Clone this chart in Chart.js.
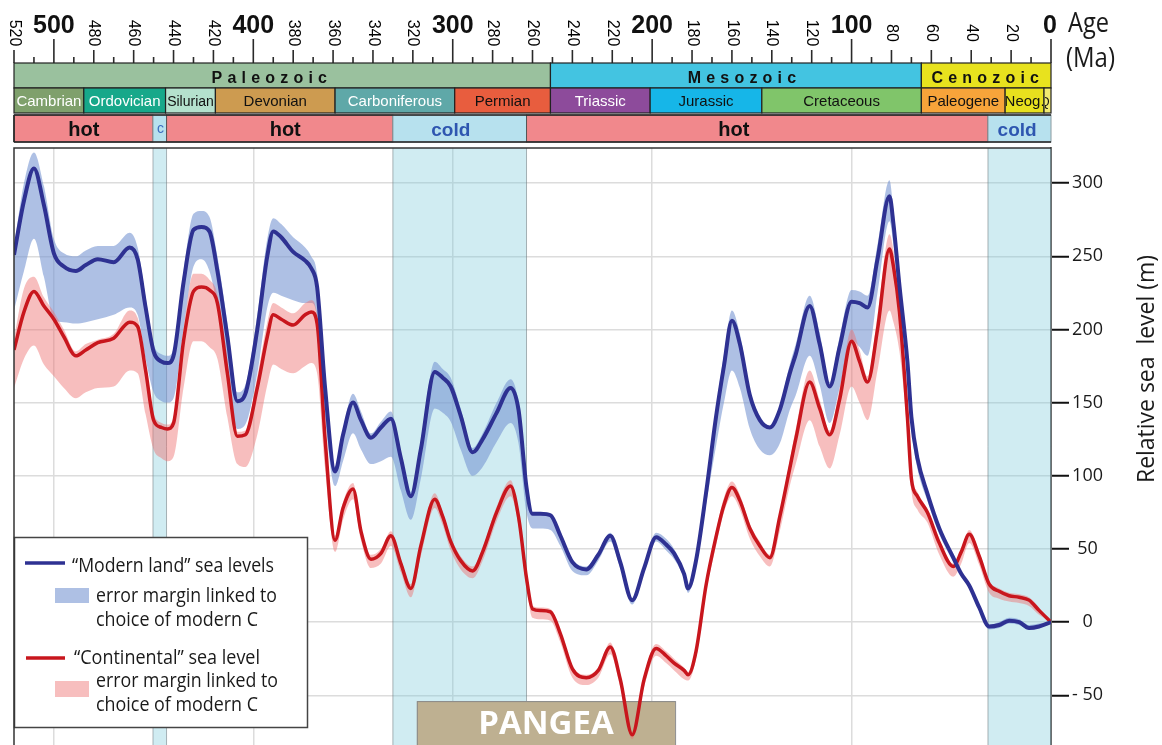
<!DOCTYPE html>
<html>
<head>
<meta charset="utf-8">
<script src="https://cdn.jsdelivr.net/npm/chart.js@4.4.0/dist/chart.umd.min.js"></script>
<style>
  html, body { margin: 0; padding: 0; background: #fff; overflow: hidden; }
  #wrap { position: relative; width: 1162px; height: 745px; }
</style>
</head>
<body>
<div id="wrap"><canvas id="chart" width="1162" height="745"></canvas></div>
<script>
// ---- Sea level reconstruction (Ma, metres relative to present) ----
const ages = [
  520,515,510,505,500,495,489,484,478,470,
  462,458,454,450,446,443,440,435,430,426,
  422,418,413,408,404,398,393,390,386,380,
  374,371,368,364,359,355,350,346,341,336,
  331,326,321,316,309,305,301,296,290,285,
  278,271,267,263,260,256,251,246,240,233,
  227,221,216,210,204,198,193,189,184,182,
  178,173,168,164,160,156,151,146,141,136,
  131,128,121,116,111,106,100,96,92,87,
  81,79,76,72,70,67,62,56,49,45,
  41,36,31,26,21,16,11,6,0
];

// "Modern land" sea levels and their error margin
const modernLand = [
  251,288,310,285,252,243,240,244,248,246,
  256,248,215,185,178,177,182,232,268,270,
  267,240,195,151,156,200,250,267,263,253,
  247,242,229,160,103,128,150,138,126,133,
  139,112,86,118,171,167,161,141,116,125,
  143,160,145,92,74,74,73,59,41,36,
  46,59,41,15,37,58,53,47,33,23,
  42,88,140,175,206,190,155,138,133,145,
  170,183,216,190,161,188,219,218,215,248,
  291,272,230,178,140,112,88,64,44,33,
  25,10,-3,-2,1,0,-4,-3,0
];
const modernLandHigh = [
  257,300,321,298,262,252,250,254,257,257,
  266,256,222,190,183,182,187,240,279,281,
  277,250,205,157,162,210,262,276,272,263,
  256,250,238,166,106,132,156,144,129,137,
  144,116,89,124,178,173,167,146,119,129,
  150,166,150,96,75,75,74,60,43,38,
  48,61,43,16,39,61,57,50,35,24,
  43,90,145,183,213,197,159,141,134,148,
  176,190,223,198,164,195,227,226,223,258,
  302,282,236,183,143,114,90,66,45,34,
  26,11,-2,0,3,2,-2,-1,0
];
const modernLandLow = [
  213,240,262,236,207,205,204,205,207,210,
  215,210,180,157,151,150,153,200,243,248,
  240,215,170,132,135,170,215,225,223,220,
  218,218,208,140,93,110,129,118,108,110,
  113,90,70,98,146,143,137,118,100,106,
  123,136,122,75,64,64,63,52,35,32,
  42,55,37,12,34,55,49,43,30,20,
  38,80,120,150,172,160,132,118,114,122,
  145,155,182,162,136,160,193,188,182,225,
  274,258,220,168,132,105,83,60,41,31,
  23,8,-5,-4,-1,-2,-5,-4,0
];

// "Continental" sea level and its error margin
const continental = [
  186,212,226,216,207,195,182,186,191,194,
  205,202,172,138,133,132,136,192,226,229,
  227,218,170,127,128,160,195,210,207,203,
  210,212,204,125,56,78,91,62,43,47,
  59,40,23,52,84,72,55,42,35,48,
  75,93,72,30,9,8,7,-8,-32,-38,
  -33,-17,-39,-77,-39,-18,-23,-28,-33,-36,
  -20,25,58,80,92,83,64,52,44,72,
  105,125,164,146,128,152,192,178,164,200,
  255,243,212,140,98,86,75,54,38,48,
  60,45,26,21,18,17,15,8,0
];
const continentalHigh = [
  194,228,236,222,212,200,185,190,193,197,
  213,208,176,143,136,135,140,200,238,238,
  234,224,175,130,131,168,205,218,215,211,
  218,220,210,130,59,82,95,65,46,50,
  62,43,26,55,88,75,58,45,38,51,
  79,97,75,33,11,10,9,-6,-30,-36,
  -31,-14,-37,-75,-36,-15,-20,-25,-31,-34,
  -18,28,62,85,96,87,67,55,46,75,
  110,132,172,152,131,160,200,186,168,210,
  265,254,217,145,102,89,77,56,40,50,
  63,48,28,23,20,19,17,10,0
];
const continentalLow = [
  160,180,189,176,168,160,153,157,160,161,
  172,170,142,118,112,110,113,160,192,192,
  188,180,140,108,106,128,162,176,173,170,
  175,177,170,105,48,70,84,56,37,40,
  52,34,17,45,78,66,49,36,30,42,
  69,86,66,24,3,2,1,-14,-38,-43,
  -38,-22,-44,-80,-44,-23,-28,-33,-39,-40,
  -25,20,52,75,86,77,57,45,38,62,
  93,108,138,120,105,128,161,150,138,172,
  213,205,185,130,90,77,68,46,31,40,
  54,39,20,16,14,13,11,5,0
];

// ---- Geologic time scale ----
const eraNames = ['Paleozoic', 'Mesozoic', 'Cenozoic'];
const eraBounds = [520, 251, 65, 0];
const periodNames = ['Cambrian','Ordovician','Silurian','Devonian','Carboniferous','Permian',
                     'Triassic','Jurassic','Cretaceous','Paleogene','Neog.','Q'];
const periodBounds = [520, 485, 444, 419, 359, 299, 251, 201, 145, 65, 23, 3.5, 0];
const climateNames = ['hot', 'c', 'hot', 'cold', 'hot', 'cold'];
const climateBounds = [520, 450.3, 443.5, 330, 263, 31.6, 0];
const coldSpans = [[450.3, 443.5], [330, 263], [31.6, 0]];
const pangeaSpan = [318, 188.5];
const pangeaTop = -54;

// Age axis labels
const majorAgeLabels = [500, 400, 300, 200, 100, 0];
const minorAgeLabels = [520,480,460,440,420,380,360,340,320,280,260,240,220,180,160,140,120,80,60,40,20];

// ---- Styling ----
const eraColors = ['#9AC19E', '#43C4E1', '#E8E21E'];
const eraLabelAt = [392, 155, 33];
const periodColors = ['#7FA06C','#17A88A','#B4E1CD','#CD9B50','#5FA8A8','#E85D3E',
                      '#8D4B9B','#16B6E8','#80C56A','#F7A43A','#E8E01E','#F2EA70'];
const periodTextColors = ['#fff','#fff','#111','#111','#fff','#111','#fff','#111','#111','#111','#111','#111'];
const climateColors = { hot: '#F1888C', cold: '#B7E1EE', c: '#B7E1EE' };
const climateLabelAt = [485, 446.5, 384, 301, 159, 17];

const BLUE = '#2E3192';
const RED = '#C8161D';
const BLUE_BAND = 'rgba(120,150,210,0.6)';
const RED_BAND = 'rgba(238,110,110,0.45)';
const SANS = '"Open Sans", "Noto Sans", sans-serif';
const ARIAL = '"Liberation Sans", Arial, sans-serif';
const NARROW = '"Liberation Sans Narrow", "Liberation Sans", Arial, sans-serif';

const toPoints = vals => ages.map((a, i) => ({ x: a, y: vals[i] }));

function fitText(ctx, text, x, y, width, font, color, align) {
  ctx.save();
  ctx.font = font;
  ctx.fillStyle = color;
  ctx.textBaseline = 'alphabetic';
  ctx.textAlign = 'left';
  const w = ctx.measureText(text).width;
  const s = Math.max(0.6, Math.min(1.2, width / w));
  let x0 = x;
  if (align === 'center') x0 = x - (w * s) / 2;
  ctx.translate(x0, y);
  ctx.scale(s, 1);
  ctx.fillText(text, 0, 0);
  ctx.restore();
}

function spacedText(ctx, text, cx, y, spacing) {
  const widths = [...text].map(ch => ctx.measureText(ch).width);
  const total = widths.reduce((s, w) => s + w, 0) + spacing * (text.length - 1);
  let x = cx - total / 2;
  ctx.textAlign = 'left';
  [...text].forEach((ch, i) => { ctx.fillText(ch, x, y); x += widths[i] + spacing; });
}

// Cold intervals and the Pangea label sit behind the curves
const backdropPlugin = {
  id: 'backdrop',
  beforeDatasetsDraw(chart) {
    const { ctx, chartArea, scales: { x, y } } = chart;
    ctx.save();
    coldSpans.forEach(([a0, a1]) => {
      const x0 = x.getPixelForValue(a0), x1 = x.getPixelForValue(a1);
      ctx.fillStyle = 'rgba(121,201,218,0.35)';
      ctx.fillRect(x0, chartArea.top, x1 - x0, chartArea.bottom - chartArea.top);
      ctx.strokeStyle = 'rgba(110,120,125,0.55)';
      ctx.lineWidth = 1;
      ctx.beginPath();
      ctx.moveTo(x0, chartArea.top); ctx.lineTo(x0, chartArea.bottom);
      ctx.moveTo(x1, chartArea.top); ctx.lineTo(x1, chartArea.bottom);
      ctx.stroke();
    });
    const px0 = x.getPixelForValue(pangeaSpan[0]);
    const px1 = x.getPixelForValue(pangeaSpan[1]);
    const py = y.getPixelForValue(pangeaTop);
    ctx.fillStyle = '#BEB091';
    ctx.fillRect(px0, py, px1 - px0, chartArea.bottom - py + 2);
    ctx.strokeStyle = '#8a8a8a';
    ctx.lineWidth = 1;
    ctx.strokeRect(px0 + 0.5, py + 0.5, px1 - px0, chartArea.bottom - py + 2);
    ctx.fillStyle = '#fff';
    ctx.font = 'bold 33px ' + SANS;
    ctx.textAlign = 'center';
    ctx.textBaseline = 'alphabetic';
    ctx.fillText('PANGEA', (px0 + px1) / 2, 734);
    ctx.restore();
  }
};

// Legend box
const legendPlugin = {
  id: 'seaLegend',
  afterDatasetsDraw(chart) {
    const ctx = chart.ctx;
    ctx.save();
    ctx.fillStyle = '#fff';
    ctx.fillRect(14, 537, 294, 191);
    ctx.strokeStyle = '#444';
    ctx.lineWidth = 1.5;
    ctx.strokeRect(14.5, 537.5, 293, 190);
    const font = '19.5px ' + SANS, ink = '#1a1a1a';
    ctx.lineCap = 'butt';
    ctx.strokeStyle = BLUE; ctx.lineWidth = 3.5;
    ctx.beginPath(); ctx.moveTo(25, 563); ctx.lineTo(65, 563); ctx.stroke();
    fitText(ctx, '\u201cModern land\u201d sea levels', 72, 571.5, 202, font, ink);
    ctx.fillStyle = BLUE_BAND; ctx.fillRect(55, 588, 34, 15);
    fitText(ctx, 'error margin linked to', 96, 601.5, 181, font, ink);
    fitText(ctx, 'choice of modern C', 96, 625.5, 162, font, ink);
    ctx.strokeStyle = RED; ctx.lineWidth = 3.5;
    ctx.beginPath(); ctx.moveTo(26, 658); ctx.lineTo(65, 658); ctx.stroke();
    fitText(ctx, '\u201cContinental\u201d sea level', 74, 664, 186, font, ink);
    ctx.fillStyle = RED_BAND; ctx.fillRect(55, 681, 34, 16);
    fitText(ctx, 'error margin linked to', 96, 687, 182, font, ink);
    fitText(ctx, 'choice of modern C', 96, 710.5, 162, font, ink);
    ctx.restore();
  }
};

// Time scale header, plot frame and axis captions
const headerPlugin = {
  id: 'geoHeader',
  afterDraw(chart) {
    const { ctx, chartArea } = chart;
    const px = a => chart.scales.x.getPixelForValue(a);
    ctx.save();

    // age ticks
    ctx.strokeStyle = '#2a2a2a';
    ctx.lineWidth = 1.6;
    for (let a = 520; a >= 0; a -= 10) {
      const len = a % 100 === 0 ? 24 : (a % 20 === 0 ? 13 : 6);
      const x = px(a);
      ctx.beginPath(); ctx.moveTo(x, 63 - len); ctx.lineTo(x, 63); ctx.stroke();
    }
    ctx.fillStyle = '#111';
    ctx.font = 'bold 25px ' + NARROW;
    ctx.textAlign = 'center';
    ctx.textBaseline = 'alphabetic';
    majorAgeLabels.forEach(a => ctx.fillText(String(a), px(a) - (a === 0 ? 1 : 0), 33));
    ctx.fillStyle = '#000';
    ctx.font = '16px ' + ARIAL;
    minorAgeLabels.forEach(a => {
      ctx.save();
      ctx.translate(px(a), 33);
      ctx.rotate(Math.PI / 2);
      ctx.textAlign = 'center';
      ctx.textBaseline = 'middle';
      ctx.fillText(String(a), 0, 0);
      ctx.restore();
    });

    // eras
    ctx.strokeStyle = '#222';
    ctx.lineWidth = 1.2;
    eraNames.forEach((name, i) => {
      const x0 = px(eraBounds[i]), x1 = px(eraBounds[i + 1]);
      ctx.fillStyle = eraColors[i];
      ctx.fillRect(x0, 63, x1 - x0, 25);
      ctx.strokeRect(x0, 63, x1 - x0, 25);
      ctx.fillStyle = '#111';
      ctx.font = 'bold 16px ' + ARIAL;
      ctx.textBaseline = 'alphabetic';
      spacedText(ctx, name, px(eraLabelAt[i]), 82.5, 5.2);
    });

    // periods
    periodNames.forEach((name, i) => {
      const x0 = px(periodBounds[i]), x1 = px(periodBounds[i + 1]);
      ctx.fillStyle = periodColors[i];
      ctx.fillRect(x0, 88, x1 - x0, 25);
      ctx.strokeRect(x0, 88, x1 - x0, 25);
      ctx.save();
      ctx.beginPath(); ctx.rect(x0 + 1, 88, x1 - x0 - 2, 25); ctx.clip();
      let font = '15px ' + ARIAL;
      if (name === 'Silurian') font = '14px ' + ARIAL;
      if (name === 'Neog.') font = '15px ' + NARROW;
      if (name === 'Q') font = '12px ' + ARIAL;
      ctx.font = font;
      ctx.fillStyle = periodTextColors[i];
      ctx.textAlign = 'center';
      const cx = name === 'Q' ? x0 + 1 : (x0 + x1) / 2;
      ctx.fillText(name, cx, 106);
      ctx.restore();
    });

    // climate mode
    climateNames.forEach((name, i) => {
      const x0 = px(climateBounds[i]), x1 = px(climateBounds[i + 1]);
      ctx.fillStyle = climateColors[name];
      ctx.fillRect(x0, 115, x1 - x0, 27);
      ctx.strokeStyle = name === 'hot' ? '#555' : '#8a9a9f';
      ctx.lineWidth = 1;
      ctx.strokeRect(x0, 115, x1 - x0, 27);
      ctx.textAlign = 'center';
      if (name === 'hot') {
        ctx.fillStyle = '#111';
        ctx.font = 'bold 20px ' + NARROW;
      } else if (name === 'cold') {
        ctx.fillStyle = '#2E56B0';
        ctx.font = 'bold 19px ' + NARROW;
      } else {
        ctx.fillStyle = '#3C6CC0';
        ctx.font = '14px ' + ARIAL;
      }
      ctx.fillText(name, px(climateLabelAt[i]), name === 'c' ? 133 : 135.5);
    });
    ctx.strokeStyle = '#222';
    ctx.lineWidth = 1.6;
    ctx.beginPath();
    ctx.moveTo(px(520), 115); ctx.lineTo(px(0), 115);
    ctx.moveTo(px(520), 142); ctx.lineTo(px(0), 142);
    ctx.moveTo(px(520), 115); ctx.lineTo(px(520), 142);
    ctx.stroke();

    // plot frame (left and top)
    ctx.strokeStyle = '#333';
    ctx.lineWidth = 1.5;
    ctx.beginPath();
    ctx.moveTo(chartArea.left, chartArea.bottom);
    ctx.lineTo(chartArea.left, chartArea.top);
    ctx.lineTo(chartArea.right, chartArea.top);
    ctx.stroke();

    // captions
    fitText(ctx, 'Age', 1068, 32, 41, '27px ' + SANS, '#1a1a1a');
    fitText(ctx, '(Ma)', 1066, 67, 49, '27px ' + SANS, '#1a1a1a');
    ctx.save();
    ctx.translate(1154, 369);
    ctx.rotate(-Math.PI / 2);
    fitText(ctx, 'Relative sea  level (m)', 0, 0, 228, '24px ' + SANS, '#1a1a1a', 'center');
    ctx.restore();

    ctx.restore();
  }
};

const lineStyle = { pointRadius: 0, pointHoverRadius: 0, cubicInterpolationMode: 'monotone' };
const bandStyle = { ...lineStyle, borderWidth: 1, borderColor: 'rgba(0,0,0,0)' };

new Chart(document.getElementById('chart'), {
  type: 'line',
  data: {
    datasets: [
      { ...lineStyle, label: '\u201cModern land\u201d sea levels', data: toPoints(modernLand),
        borderColor: BLUE, borderWidth: 4, fill: false, order: 0 },
      { ...lineStyle, label: '\u201cContinental\u201d sea level', data: toPoints(continental),
        borderColor: RED, borderWidth: 3.5, fill: false, order: 1 },
      { ...bandStyle, label: 'continental high', data: toPoints(continentalHigh),
        fill: '+1', backgroundColor: RED_BAND, order: 2 },
      { ...bandStyle, label: 'continental low', data: toPoints(continentalLow), fill: false, order: 2 },
      { ...bandStyle, label: 'modern land high', data: toPoints(modernLandHigh),
        fill: '+1', backgroundColor: BLUE_BAND, order: 3 },
      { ...bandStyle, label: 'modern land low', data: toPoints(modernLandLow), fill: false, order: 3 }
    ]
  },
  options: {
    responsive: false,
    animation: false,
    devicePixelRatio: 1,
    layout: { padding: { top: 148, left: 14, right: 0, bottom: 0 } },
    plugins: { legend: { display: false }, tooltip: { enabled: false } },
    scales: {
      x: {
        type: 'linear', reverse: true, min: 0, max: 520,
        ticks: { display: false, stepSize: 100, includeBounds: false },
        grid: { color: '#dcdcdc', lineWidth: 1.5, drawTicks: false },
        border: { display: false },
        afterFit(scale) {
          scale.height = 0;
          scale.paddingLeft = 0; scale.paddingRight = 0;
          scale.paddingTop = 0; scale.paddingBottom = 0;
        }
      },
      y: {
        type: 'linear', position: 'right', min: -84, max: 324,
        ticks: {
          stepSize: 50, includeBounds: false, padding: 3, crossAlign: 'center',
          color: '#1a1a1a', font: { family: '"Open Sans", "Noto Sans", sans-serif', size: 18 },
          callback: v => (v < 0 ? '- ' + Math.abs(v) : String(v))
        },
        grid: { color: '#dcdcdc', lineWidth: 1.5, tickLength: 18, tickColor: '#111', tickWidth: 2 },
        border: { display: true, color: '#6a6a6a', width: 2 },
        afterFit(scale) {
          scale.width = 111;
          scale.paddingTop = 0; scale.paddingBottom = 0;
        }
      }
    }
  },
  plugins: [backdropPlugin, legendPlugin, headerPlugin]
});
</script>
</body>
</html>
